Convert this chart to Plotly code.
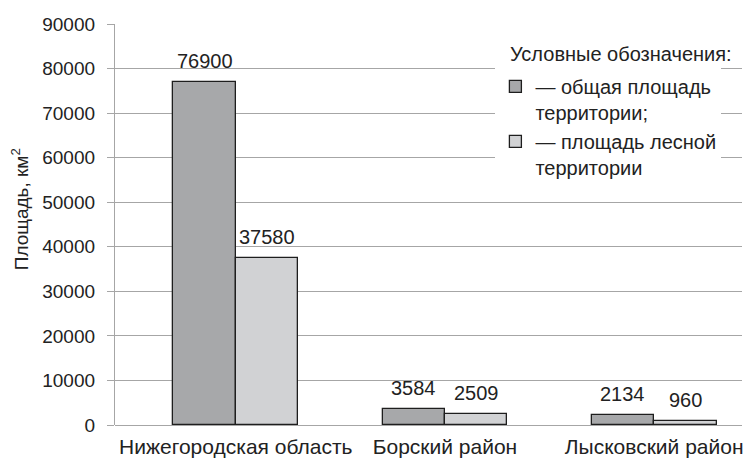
import plotly.graph_objects as go

categories = ["Нижегородская область", "Борский район", "Лысковский район"]
total_area = [76900, 3584, 2134]
forest_area = [37580, 2509, 960]
series_names = ["— общая площадь<br>территории;", "— площадь лесной<br>территории"]
legend_title = "Условные обозначения:"
y_ticks = [0, 10000, 20000, 30000, 40000, 50000, 60000, 70000, 80000, 90000]

FONT = "Liberation Sans, Arial, sans-serif"
W, H = 743, 458
ML, MR, MT, MB = 115, 0, 24, 31
PW, PH = W - ML - MR, H - MT - MB
xpos = list(range(len(categories)))
bw = 0.2985

fig = go.Figure()
fig.add_trace(go.Bar(x=xpos, y=total_area, name=series_names[0],
                     marker=dict(color="#a7a8aa", line=dict(color="#1e1e1e", width=1.3)),
                     offset=-bw, width=bw))
fig.add_trace(go.Bar(x=xpos, y=forest_area, name=series_names[1],
                     marker=dict(color="#d1d2d4", line=dict(color="#1e1e1e", width=1.3)),
                     offset=0, width=bw))

annotations = []
for i in xpos:
    for v, off in ((total_area[i], -bw / 2), (forest_area[i], bw / 2)):
        annotations.append(dict(x=i + off, y=v, xref="x", yref="y", text=str(v),
                                showarrow=False, yanchor="bottom", yshift=8,
                                font=dict(family=FONT, size=20, color="#222")))
annotations.append(dict(xref="paper", yref="paper", x=(20 - ML) / PW,
                        y=(427 - 210) / PH, text="Площадь, км<sup>2</sup>",
                        textangle=-90, showarrow=False, xanchor="center", yanchor="middle",
                        font=dict(family=FONT, size=19, color="#222")))
annotations.append(dict(xref="paper", yref="paper", x=(509 - ML) / PW,
                        y=(427 - 54) / PH, text=legend_title, showarrow=False,
                        xanchor="left", yanchor="middle", bgcolor="white",
                        font=dict(family=FONT, size=20, color="#222")))

fig.update_layout(
    width=W, height=H,
    margin=dict(l=ML, r=MR, t=MT, b=MB),
    paper_bgcolor="white", plot_bgcolor="white",
    font=dict(family=FONT, size=20, color="#222"),
    showlegend=True,
    legend=dict(x=(496 - ML) / PW, y=(427 - 67) / PH,
                xanchor="left", yanchor="top", bgcolor="white",
                font=dict(family=FONT, size=20, color="#222"),
                valign="top", tracegroupgap=4, itemclick=False),
    xaxis=dict(range=[-0.5776, 2.42], tickmode="array", tickvals=xpos, ticktext=categories,
               showgrid=False, showline=False, zeroline=False, ticks="",
               ticklabelstandoff=7, ticklabeloverflow="allow",
               tickfont=dict(family=FONT, size=21, color="#222")),
    yaxis=dict(range=[0, 90000], tickmode="array", tickvals=y_ticks,
               ticktext=[str(t) for t in y_ticks],
               showgrid=True, gridcolor="#a6a6a6", gridwidth=1.3,
               showline=True, linecolor="#a6a6a6", linewidth=1.3,
               ticks="outside", ticklen=7, tickcolor="#a6a6a6", tickwidth=1.3,
               ticklabelstandoff=8,
               zeroline=True, zerolinecolor="#a6a6a6", zerolinewidth=1.3,
               tickfont=dict(family=FONT, size=19, color="#222")),
    annotations=annotations,
    bargap=0,
)

fig.write_html("out.html")
